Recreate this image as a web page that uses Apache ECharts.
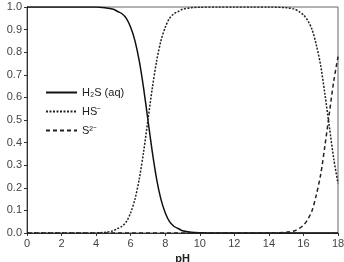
<!DOCTYPE html>
<html>
<head>
<meta charset="utf-8">
<script src="https://cdn.jsdelivr.net/npm/echarts@6/dist/echarts.min.js"></script>
<style>
  html, body { margin: 0; padding: 0; background: #fff; }
  #chart { width: 344px; height: 262px; }
</style>
</head>
<body>
<div id="chart"></div>
<script>
var pH = [0, 1, 2, 3, 4, 4.5, 5, 5.25, 5.5, 5.75, 6, 6.25, 6.5, 6.75, 7, 7.25, 7.5, 7.75, 8, 8.25, 8.5, 8.75, 9, 9.5, 10, 11, 12, 13, 14, 15, 15.5, 15.75, 16, 16.25, 16.5, 16.75, 17, 17.25, 17.5, 17.75, 18];

var h2s = [1, 1, 1, 1, 1, 0.997, 0.99, 0.98, 0.97, 0.95, 0.91, 0.85, 0.76, 0.64, 0.5, 0.36, 0.24, 0.15, 0.09, 0.05, 0.03, 0.02, 0.01, 0.003, 0.001, 0, 0, 0, 0, 0, 0, 0, 0, 0, 0, 0, 0, 0, 0, 0, 0];
var hs = [0, 0, 0, 0, 0, 0.003, 0.01, 0.02, 0.03, 0.05, 0.09, 0.15, 0.24, 0.36, 0.5, 0.64, 0.76, 0.85, 0.91, 0.95, 0.97, 0.98, 0.99, 0.997, 0.999, 1, 1, 1, 1, 0.997, 0.99, 0.98, 0.965, 0.94, 0.9, 0.83, 0.74, 0.61, 0.47, 0.33, 0.22];
var s2 = [0, 0, 0, 0, 0, 0, 0, 0, 0, 0, 0, 0, 0, 0, 0, 0, 0, 0, 0, 0, 0, 0, 0, 0, 0, 0, 0, 0, 0, 0.003, 0.01, 0.02, 0.035, 0.06, 0.1, 0.17, 0.26, 0.39, 0.53, 0.67, 0.78];

var names = ['H\u2082S (aq)', 'HS\u207B', 'S\u00B2\u207B'];

function pairs(ys) {
    return pH.map(function (x, i) { return [x, ys[i]]; });
}

var myChart = echarts.init(document.getElementById('chart'));

var option = {
    animation: false,
    textStyle: { fontFamily: 'Liberation Sans, Arial, sans-serif' },
    grid: {
        left: 27, right: 6, top: 7, bottom: 29,
        containLabel: false, outerBoundsMode: 'none',
        show: true, borderColor: '#666', borderWidth: 1
    },
    legend: {
        orient: 'vertical',
        left: 40, top: 82,
        itemWidth: 31, itemHeight: 8, itemGap: 8,
        itemStyle: { opacity: 0 },
        textStyle: { fontSize: 11, color: '#222' },
        data: names
    },
    xAxis: {
        type: 'value', min: 0, max: 18, interval: 2,
        name: 'pH', nameLocation: 'middle', nameGap: 20,
        nameTextStyle: { fontWeight: 'bold', fontSize: 11, color: '#222' },
        axisLine: { lineStyle: { color: '#333' } },
        axisTick: { length: 3, lineStyle: { color: '#333' } },
        axisLabel: { fontSize: 11, color: '#444', margin: 5 },
        splitLine: { show: false }
    },
    yAxis: {
        type: 'value', min: 0, max: 1, interval: 0.1,
        axisLine: { show: true, lineStyle: { color: '#333' } },
        axisTick: { show: true, length: 3, lineStyle: { color: '#333' } },
        axisLabel: { fontSize: 11, color: '#444', margin: 5,
            formatter: function (v) { return v.toFixed(1); } },
        splitLine: { show: false }
    },
    series: [
        {
            name: names[0], type: 'line', smooth: 0.3, symbol: 'none',
            lineStyle: { color: '#111', width: 1.5, type: 'solid' },
            itemStyle: { color: '#111' },
            data: pairs(h2s)
        },
        {
            name: names[1], type: 'line', smooth: 0.3, symbol: 'none',
            lineStyle: { color: '#222', width: 1.5, type: [2, 1.5] },
            itemStyle: { color: '#222' },
            data: pairs(hs)
        },
        {
            name: names[2], type: 'line', smooth: 0.3, symbol: 'none',
            lineStyle: { color: '#222', width: 1.5, type: [4, 3] },
            itemStyle: { color: '#222' },
            data: pairs(s2)
        }
    ]
};

myChart.setOption(option);
</script>
</body>
</html>
